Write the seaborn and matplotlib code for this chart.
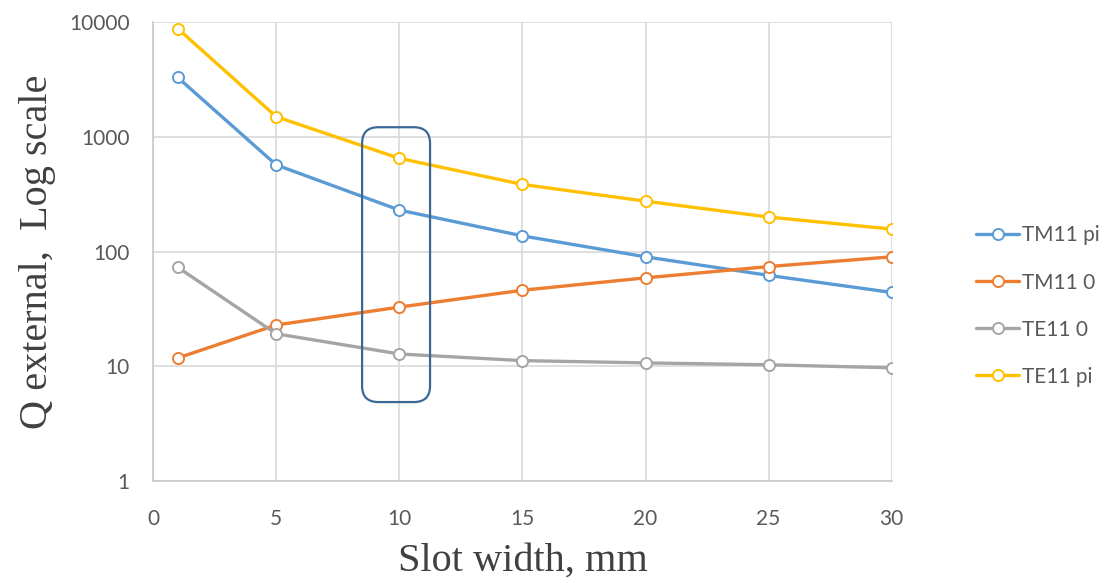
import pandas as pd
import seaborn as sns
import matplotlib.pyplot as plt
from matplotlib.patches import FancyBboxPatch

# Werte
slot_width = [1, 5, 10, 15, 20, 25, 30]
tm11_pi = [3300, 570, 230, 137, 90, 62, 44]
tm11_0 = [11.8, 22.9, 32.8, 46, 59, 74, 90]
te11_0 = [73, 19.2, 12.8, 11.2, 10.7, 10.3, 9.7]
te11_pi = [8800, 1500, 650, 385, 275, 200, 157]

series_names = ["TM11 pi", "TM11 0", "TE11 0", "TE11 pi"]
series_colors = ["#5b9bd5", "#ed7d31", "#a5a5a5", "#ffc000"]
y_ticks = [1, 10, 100, 1000, 10000]
x_ticks = [0, 5, 10, 15, 20, 25, 30]

rows = []
for name, vals in zip(series_names, [tm11_pi, tm11_0, te11_0, te11_pi]):
    for x, y in zip(slot_width, vals):
        rows.append({"Slot": x, "Q": y, "Serie": name})
df = pd.DataFrame(rows)

sns.set_style("white")
plt.rcParams["font.family"] = ["Lato", "DejaVu Sans"]
fig = plt.figure(figsize=(11.05, 5.83), dpi=100)
ax = fig.add_axes([0.1385, 0.175, 0.6685, 0.787])

sns.lineplot(data=df, x="Slot", y="Q", hue="Serie", hue_order=series_names,
             palette=series_colors, marker="o", markersize=8, linewidth=2.4,
             legend=False, ax=ax, zorder=3)

for line in ax.lines:
    line.set_markerfacecolor("white")
    line.set_markeredgecolor(line.get_color())
    line.set_markeredgewidth(1.4)

ax.set_yscale("log")
ax.set_ylim(1, 10000)
ax.set_xlim(0, 30)
ax.set_yticks(y_ticks)
ax.set_yticklabels([str(t) for t in y_ticks])
ax.minorticks_off()
ax.set_xticks(x_ticks)
ax.set_xticklabels([str(t) for t in x_ticks])
ax.tick_params(axis="both", labelsize=15, labelcolor="#595959", length=0)
ax.tick_params(axis="y", pad=17)
ax.tick_params(axis="x", pad=20)
ax.grid(True, color="#d9d9d9", linewidth=1.2, zorder=0)
for side in ["top", "right"]:
    ax.spines[side].set_visible(False)
for side in ["left", "bottom"]:
    ax.spines[side].set_color("#c8c8c8")
    ax.spines[side].set_linewidth(1.2)

ax.set_xlabel("Slot width, mm", fontsize=29, family="Liberation Serif",
              color="#404040", labelpad=10)
ax.set_ylabel("Q external,  Log scale", fontsize=29, family="Liberation Serif",
              color="#404040", labelpad=9)

# abgerundeter Rahmen um 10 mm
box = FancyBboxPatch((0.283, 0.172), 0.092, 0.599, transform=ax.transAxes,
                     boxstyle="round,pad=0,rounding_size=0.022",
                     fill=False, edgecolor="#3c6896", linewidth=1.6,
                     clip_on=False, zorder=5, mutation_aspect=1.6)
ax.add_patch(box)

ax.legend(handles=ax.lines[:4], labels=series_names, loc="center left",
          bbox_to_anchor=(0.866, 0.475), bbox_transform=fig.transFigure,
          frameon=False, fontsize=15, labelspacing=1.3, handlelength=2.1,
          handletextpad=0.1, labelcolor="#595959")

fig.savefig("out.png", dpi=100)
